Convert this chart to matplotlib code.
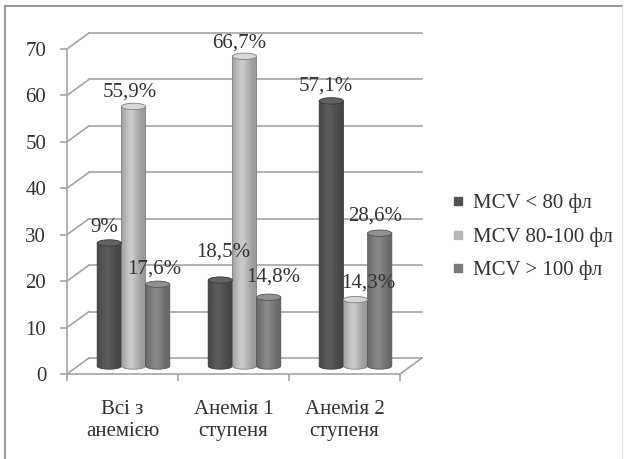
import numpy as np
import matplotlib
matplotlib.use("Agg")
import matplotlib.pyplot as plt
from matplotlib.transforms import ScaledTranslation
from matplotlib.patches import Ellipse, PathPatch, ConnectionPatch
from matplotlib.path import Path
from matplotlib.lines import Line2D

# ---- data -------------------------------------------------------------
categories = ["Всі з\nанемією", "Анемія 1\nступеня", "Анемія 2\nступеня"]
series_names = ["MCV < 80 фл", "MCV 80-100 фл", "MCV > 100 фл"]
mcv_low = [26.5, 18.5, 57.1]
mcv_norm = [55.9, 66.7, 14.3]
mcv_high = [17.6, 14.8, 28.6]
labels_low = ["9%", "18,5%", "57,1%"]
labels_norm = ["55,9%", "66,7%", "14,3%"]
labels_high = ["17,6%", "14,8%", "28,6%"]
y_ticks = [0, 10, 20, 30, 40, 50, 60, 70]

# ---- style ------------------------------------------------------------
plt.rcParams["font.family"] = ["Liberation Serif", "DejaVu Serif"]
DPI = 100
W, H = 624, 459
FONT = 15
TEXT = "#333333"
GRID = "#a4a4a4"
BASES = ["#525252", "#b6b6b6", "#7a7a7a"]
DEPTH_DX, DEPTH_DY = 22, 16        # pixel offset from front plane to back wall
BAR_W = 0.218
ELL_PX = 3.2                        # half-height of cylinder caps, px

# per-label offsets (px) from the cylinder top
label_offsets = [
    [(-5, 15), (3, 28), (-5, 15)],
    [(-4, 14), (-5, 13), (13, 17)],
    [(-3, 15), (5, 20), (-5, 17)],
]

fig = plt.figure(figsize=(W / DPI, H / DPI), dpi=DPI)
fig.patch.set_facecolor("white")
ax_left, ax_bottom, ax_w, ax_h = 67, 85, 333, 325
ax = fig.add_axes([ax_left / W, ax_bottom / H, ax_w / W, ax_h / H])
ax.set_facecolor("none")
for s in ax.spines.values():
    s.set_visible(False)
ax.set_xlim(-0.5, 2.5)
ax.set_ylim(y_ticks[0], y_ticks[-1])


def shifted(frac):
    return ax.transData + ScaledTranslation(frac * DEPTH_DX / DPI,
                                            frac * DEPTH_DY / DPI,
                                            fig.dpi_scale_trans)


back = shifted(1.0)
mid = shifted(0.5)
x_lo, x_hi = ax.get_xlim()

# back wall gridlines with their diagonals to the front axis
for v in y_ticks:
    ax.plot([x_lo, x_hi], [v, v], transform=back, color=GRID, lw=1.2,
            zorder=1, clip_on=False)
    ax.add_artist(ConnectionPatch((x_lo, v), (x_lo, v), coordsA=ax.transData,
                                  coordsB=back, color=GRID, lw=1.2, zorder=1))

# floor and front axis
ax.plot([x_lo, x_hi], [0, 0], color=GRID, lw=1.2, zorder=1, clip_on=False)
ax.add_artist(ConnectionPatch((x_hi, 0), (x_hi, 0), coordsA=ax.transData,
                              coordsB=back, color=GRID, lw=1.2, zorder=1))
ax.plot([x_lo, x_lo], [y_ticks[0], y_ticks[-1]], color=GRID, lw=1.2,
        zorder=1, clip_on=False)

# ticks
ax.set_yticks(y_ticks)
ax.tick_params(axis="y", length=5, width=1.2, color=GRID, pad=10,
               labelsize=FONT, labelcolor=TEXT)
ax.set_xticks(range(len(categories)))
ax.set_xticklabels(categories, linespacing=1.2)
ax.set_xticks(np.arange(-0.5, len(categories), 1.0), minor=True)
ax.tick_params(axis="x", which="major", length=0, pad=19,
               labelsize=FONT, labelcolor=TEXT)
ax.tick_params(axis="x", which="minor", length=5, width=1.2, color=GRID)

# cylinders
ell_h = ELL_PX * (y_ticks[-1] - y_ticks[0]) / ax_h
t = np.linspace(0, 1, 80)
profile = 0.78 + 0.25 * np.exp(-((t - 0.40) / 0.30) ** 2)
arc = np.linspace(np.pi, 2 * np.pi, 30)

series = [mcv_low, mcv_norm, mcv_high]
labels = [labels_low, labels_norm, labels_high]
for si, (vals, base) in enumerate(zip(series, BASES)):
    rgb = np.array(matplotlib.colors.to_rgb(base))
    grad = np.clip(rgb[None, None, :] * profile[None, :, None] * 1.08, 0, 1)
    grad = np.repeat(grad, 2, axis=0)
    cap = np.clip(rgb * 1.18, 0, 1)
    edge = rgb * 0.70
    for gi, v in enumerate(vals):
        xc = gi + (si - 1) * BAR_W
        x0, x1 = xc - BAR_W / 2, xc + BAR_W / 2
        verts = [(x0, v), (x0, 0)]
        verts += [(xc + BAR_W / 2 * np.cos(a), ell_h * np.sin(a)) for a in arc]
        verts += [(x1, v), (x0, v)]
        codes = [Path.MOVETO] + [Path.LINETO] * (len(verts) - 2) + [Path.CLOSEPOLY]
        body = PathPatch(Path(verts, codes), transform=mid, facecolor="none",
                         edgecolor=edge, lw=0.6, zorder=3)
        im = ax.imshow(grad, extent=[x0, x1, -ell_h, v], transform=mid,
                       aspect="auto", interpolation="bilinear", zorder=2)
        im.set_clip_path(body)
        ax.add_patch(body)
        ax.add_patch(Ellipse((xc, v), BAR_W, 2 * ell_h, transform=mid,
                             facecolor=cap, edgecolor=edge, lw=0.6, zorder=4))

for si, vals in enumerate(series):
    for gi, v in enumerate(vals):
        xc = gi + (si - 1) * BAR_W
        dx, dy = label_offsets[si][gi]
        ax.annotate(labels[si][gi], xy=(xc, v), xycoords=mid,
                    xytext=(dx * 72 / DPI, dy * 72 / DPI),
                    textcoords="offset points", ha="center", va="center",
                    fontsize=FONT, color=TEXT, zorder=6)

ax.set_xlim(-0.5, 2.5)
ax.set_ylim(y_ticks[0], y_ticks[-1])

# legend
handles = [Line2D([], [], marker="s", ls="none", markersize=6,
                  markerfacecolor=c, markeredgecolor=c) for c in BASES]
fig.legend(handles, series_names, loc="center left",
           bbox_to_anchor=(450 / W, 1 - 237 / H), frameon=False,
           fontsize=FONT, labelcolor=TEXT, handlelength=0.8,
           handletextpad=0.3, labelspacing=0.66, borderpad=0,
           borderaxespad=0)

# outer frame
fig.add_artist(Line2D([5 / W, 5 / W], [0, 1 - 6 / H], transform=fig.transFigure,
                      color="#9a9a9a", lw=1.5))
fig.add_artist(Line2D([5 / W, 622 / W], [1 - 6 / H, 1 - 6 / H],
                      transform=fig.transFigure, color="#9a9a9a", lw=1.5))
fig.add_artist(Line2D([622 / W, 622 / W], [0, 1 - 6 / H],
                      transform=fig.transFigure, color="#e4e4e4", lw=1.0))

fig.savefig("out.png", dpi=DPI)
